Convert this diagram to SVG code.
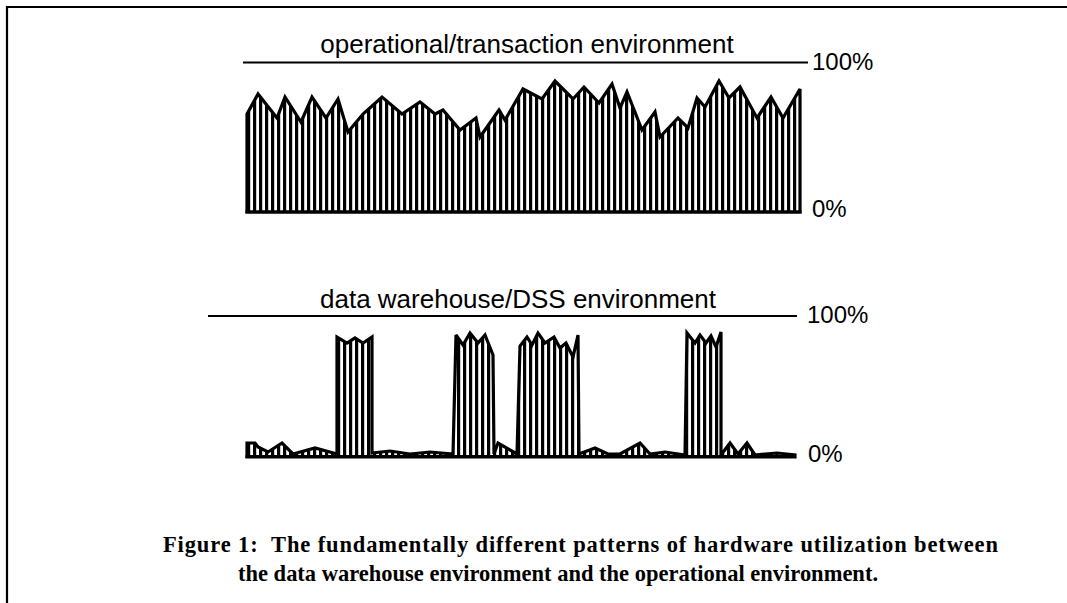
<svg xmlns="http://www.w3.org/2000/svg" width="1067" height="603" viewBox="0 0 1067 603">
  <style>
    .frame { fill: none; stroke: #000; stroke-width: 2.2; }
    .scale { stroke: #000; stroke-width: 2.2; fill: none; }
    .base { stroke: #000; stroke-width: 3.2; fill: none; }
    .load { fill: url(#stripes); stroke: #000; stroke-width: 3.2; stroke-linejoin: miter; stroke-miterlimit: 3; }
    .title { font-family: "Liberation Sans", Arial, sans-serif; font-size: 26px; fill: #000; text-anchor: middle; }
    .pct { font-family: "Liberation Sans", Arial, sans-serif; font-size: 24px; fill: #000; }
    .caption { font-family: "Liberation Serif", "Times New Roman", serif; font-weight: bold; font-size: 22.5px; fill: #000; }
  </style>
  <defs>
    <!-- vertical hatching used for the utilisation areas -->
    <pattern id="stripes" patternUnits="userSpaceOnUse" x="247" y="0" width="6" height="20">
      <rect x="0" y="0" width="3.2" height="20" fill="#000"/>
    </pattern>
  </defs>

  <rect width="1067" height="603" fill="#fff"/>

  <!-- page frame (top and left rules) -->
  <g id="frame">
    <polyline class="frame" points="7,603 7,7 1067,7"/>
  </g>

  <!-- operational / transaction environment: steady high load -->
  <g id="operational-chart">
    <text class="title" x="527" y="53">operational/transaction environment</text>
    <line class="scale" x1="243" y1="62.5" x2="808" y2="62.5"/>
    <text class="pct" x="812" y="70">100%</text>
    <polygon class="load" points="247,114 258,94 277,118 285,97 301,122 312,97 326,118 338,99 348,132 363,114 382,97 402,114 420,102 435,114 443,110 460,130 476,118 480,137 499,110 505,120 523,89 542,99 555,81 573,99 584,87 599,103 612,84 620,108 627,92 642,130 655,112 660,137 678,118 688,128 697,98 705,107 719,81 729,98 740,87 757,118 771,97 783,118 800,89 800,212 247,212"/>
    <line class="base" x1="245.5" y1="212" x2="801.5" y2="212"/>
    <text class="pct" x="812" y="217">0%</text>
  </g>

  <!-- data warehouse / DSS environment: idle with bursts -->
  <g id="dss-chart">
    <text class="title" x="518" y="308">data warehouse/DSS environment</text>
    <line class="scale" x1="208" y1="316" x2="797" y2="316"/>
    <text class="pct" x="807" y="323">100%</text>
    <polygon class="load" points="247,443 255,443 258,447 268,452 282,443 293,454 315,448 337,454 337,337 347,343 355,338 363,343 372,337 372,453 390,451 410,454 430,452 453,454 456,335 463,345 470,333 478,343 485,335 493,355 494,454 498,443 517,454 520,346 527,337 532,345 538,333 545,343 554,337 560,348 566,343 573,357 578,335 579,454 595,448 608,454 620,454 640,443 650,454 665,452 685,455 687,333 695,343 700,335 706,343 711,336 716,347 721,332 721,455 730,443 738,454 747,443 755,455 777,453 795,455 795,457 247,457"/>
    <line class="base" x1="245.5" y1="456.5" x2="796" y2="456.5"/>
    <text class="pct" x="808" y="462">0%</text>
  </g>

  <!-- figure caption -->
  <g id="caption">
    <text class="caption" x="163" y="552" textLength="835" xml:space="preserve">Figure 1:  The fundamentally different patterns of hardware utilization between</text>
    <text class="caption" x="238" y="581" textLength="640">the data warehouse environment and the operational environment.</text>
  </g>
</svg>
